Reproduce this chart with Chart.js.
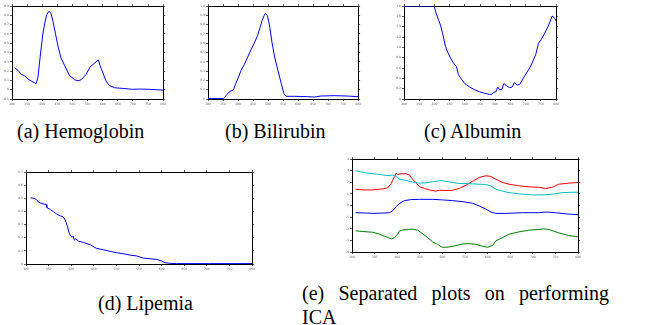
<!DOCTYPE html>
<html>
<head>
<meta charset="utf-8">
<script src="https://cdn.jsdelivr.net/npm/chart.js@4.4.1/dist/chart.umd.min.js"></script>
<style>
body { margin: 0; background: #fff; width: 665px; height: 325px; position: relative; overflow: hidden; font-family: "Liberation Serif", "Times New Roman", serif; }
canvas { position: absolute; }
.cap { position: absolute; font-size: 20px; line-height: 24px; color: #000; white-space: nowrap; }
.capE { position: absolute; font-size: 20px; line-height: 24px; color: #000; text-align: justify; width: 307px; }
</style>
</head>
<body>
<canvas id="plotA"></canvas>
<canvas id="plotB"></canvas>
<canvas id="plotC"></canvas>
<canvas id="plotD"></canvas>
<canvas id="plotE"></canvas>
<div class="cap" style="left:17px; top:119px;">(a) Hemoglobin</div>
<div class="cap" style="left:225px; top:119px;">(b) Bilirubin</div>
<div class="cap" style="left:424px; top:119px;">(c) Albumin</div>
<div class="cap" style="left:98px; top:291px;">(d) Lipemia</div>
<div class="capE" style="left:302px; top:281px;">(e) Separated plots on performing ICA</div>
<script>
// wavelength ticks, same for every panel
var xMin = 300, xMax = 800, xStep = 50;

// (a) hemoglobin
var hbX = [309,320,331,342,353,364,380,386,393,402,409,415,422,429,435,444,453,462,474,490,507,518,529,545,558,573,586,591,600,611,622,639,666,699,721,754,800];
var hbY = [0.236,0.207,0.164,0.150,0.114,0.093,0.064,0.136,0.350,0.600,0.725,0.807,0.843,0.821,0.743,0.600,0.457,0.343,0.261,0.154,0.107,0.096,0.107,0.164,0.243,0.286,0.321,0.261,0.189,0.093,0.046,0.021,0.014,0.004,0.007,0.004,-0.004];

// (b) bilirubin
var biX = [302,352,355,363,374,385,392,401,410,421,432,443,454,465,473,480,487,491,498,506,513,522,533,544,553,560,588,632,654,676,720,764,800];
var biY = [0.004,0.004,0.014,0.050,0.082,0.100,0.164,0.229,0.307,0.371,0.450,0.529,0.600,0.682,0.764,0.843,0.896,0.921,0.896,0.771,0.611,0.450,0.307,0.164,0.057,0.029,0.029,0.025,0.021,0.032,0.036,0.032,0.025];

// (c) albumin (runs along the top at the start)
var alX = [300,396,400,406,414,420,428,436,444,453,462,472,479,488,499,516,532,548,565,581,589,595,602,608,614,622,628,636,647,655,663,672,680,691,702,713,723,734,742,751,762,773,781,786,790,795,800];
var alY = [1.80,1.80,1.78,1.65,1.52,1.43,1.24,1.02,0.90,0.79,0.70,0.63,0.47,0.39,0.30,0.23,0.18,0.14,0.11,0.09,0.09,0.13,0.14,0.23,0.18,0.19,0.30,0.26,0.22,0.23,0.32,0.27,0.28,0.39,0.50,0.60,0.72,0.88,1.08,1.15,1.27,1.40,1.51,1.60,1.60,1.56,1.51];

// (d) lipemia
var lpX = [310,318,323,328,335,345,346,354,361,368,376,382,387,392,395,399,402,404,407,410,416,427,442,456,471,486,500,515,530,545,559,574,589,600,607,618,633,706,800];
var lpY = [0.503,0.500,0.490,0.470,0.460,0.452,0.430,0.414,0.397,0.379,0.366,0.359,0.334,0.283,0.238,0.212,0.202,0.212,0.182,0.192,0.174,0.164,0.147,0.119,0.109,0.096,0.086,0.078,0.068,0.061,0.045,0.040,0.035,0.023,0.010,0.005,0.003,0.003,0.003];

// (e) ICA components
var cyX = [308,332,354,376,390,398,405,420,434,449,464,478,497,508,522,537,552,567,581,596,607,618,633,647,669,699,721,743,765,787,800];
var cyY = [2.99,2.79,2.70,2.58,2.61,2.50,2.27,2.15,2.01,1.92,1.95,2.04,2.15,2.07,1.98,1.89,1.89,1.86,1.83,1.81,1.69,1.40,1.23,1.11,1.00,0.91,0.91,0.97,1.11,1.14,1.14];
var rdX = [308,324,346,368,379,387,394,398,401,409,420,427,434,442,449,460,471,486,493,508,522,537,552,567,581,596,607,618,633,647,669,691,713,728,743,757,779,800];
var rdY = [1.40,1.34,1.34,1.43,1.52,1.92,2.50,2.79,2.67,2.73,2.73,2.61,2.27,1.92,1.63,1.46,1.34,1.23,1.31,1.29,1.31,1.46,1.75,2.09,2.41,2.56,2.50,2.27,1.98,1.83,1.69,1.60,1.57,1.46,1.57,1.83,1.92,1.98];
var blX = [308,332,346,368,383,390,398,405,416,431,449,478,500,522,545,567,581,596,607,618,640,677,713,728,750,779,800];
var blY = [-0.62,-0.65,-0.68,-0.65,-0.62,-0.45,-0.10,0.19,0.42,0.51,0.53,0.53,0.48,0.42,0.33,0.19,-0.04,-0.30,-0.56,-0.68,-0.68,-0.62,-0.62,-0.56,-0.62,-0.74,-0.79];
var grX = [308,324,346,361,376,387,394,401,405,412,420,434,445,456,467,478,489,500,515,530,545,559,574,589,600,611,618,633,647,669,691,713,724,735,757,779,800];
var grY = [-2.18,-2.24,-2.30,-2.47,-2.70,-2.87,-2.76,-2.47,-2.18,-2.12,-2.06,-2.04,-2.12,-2.41,-2.76,-3.13,-3.34,-3.60,-3.57,-3.45,-3.31,-3.28,-3.34,-3.51,-3.60,-3.42,-3.05,-2.76,-2.47,-2.27,-2.12,-2.06,-2.01,-2.06,-2.35,-2.58,-2.70];

var blue = 'rgb(0,0,255)';

function toPoints(xs, ys) {
    var pts = [];
    for (var i = 0; i < xs.length; i++) {
        pts.push({x: xs[i], y: ys[i]});
    }
    return pts;
}

function line(xs, ys, color) {
    return {
        data: toPoints(xs, ys),
        showLine: true,
        borderColor: color,
        borderWidth: 1,
        pointRadius: 0,
        tension: 0
    };
}

// axis sizes around the plot box: left, right, top, bottom
var padL = 14, padR = 3, padT = 3, padB = 9;

function axis(pos, min, max, step, labels, size) {
    var horiz = (pos == 'top' || pos == 'bottom');
    return {
        type: 'linear',
        position: pos,
        min: min,
        max: max,
        ticks: {
            display: labels,
            stepSize: step,
            autoSkip: false,
            maxRotation: 0,
            padding: 1,
            color: '#666',
            font: {size: 3, family: 'DejaVu Sans'}
        },
        grid: {drawOnChartArea: false, tickLength: 2, color: '#000', lineWidth: 0.6},
        border: {display: true, color: '#000', width: 1},
        afterFit: function (s) {
            if (horiz) s.height = size; else s.width = size;
        }
    };
}

function makePlot(id, box, yMin, yMax, yStep, datasets) {
    var cv = document.getElementById(id);
    var w = box[2] - box[0] + padL + padR;
    var h = box[3] - box[1] + padT + padB;
    cv.style.left = (box[0] - padL) + 'px';
    cv.style.top = (box[1] - padT) + 'px';
    cv.width = w;
    cv.height = h;
    cv.style.width = w + 'px';
    cv.style.height = h + 'px';
    return new Chart(cv, {
        type: 'scatter',
        data: {datasets: datasets},
        options: {
            responsive: false,
            animation: false,
            layout: {padding: 0},
            plugins: {legend: {display: false}, tooltip: {enabled: false}},
            scales: {
                x: axis('bottom', xMin, xMax, xStep, true, padB),
                x2: axis('top', xMin, xMax, xStep, false, padT),
                y: axis('left', yMin, yMax, yStep, true, padL),
                y2: axis('right', yMin, yMax, yStep, false, padR)
            }
        }
    });
}

makePlot('plotA', [12, 6, 164, 99], -0.1, 0.9, 0.1, [line(hbX, hbY, blue)]);
makePlot('plotB', [208, 6, 359, 99], 0, 1, 0.1, [line(biX, biY, blue)]);
makePlot('plotC', [404, 6, 557, 99], 0, 1.8, 0.2, [line(alX, alY, blue)]);
makePlot('plotD', [26, 172, 253, 264], 0, 0.7, 0.1, [line(lpX, lpY, blue)]);
makePlot('plotE', [352, 159, 579, 252], -4, 4, 1, [
    line(cyX, cyY, 'rgb(0,191,191)'),
    line(rdX, rdY, 'rgb(255,0,0)'),
    line(blX, blY, blue),
    line(grX, grY, 'rgb(0,128,0)')
]);
</script>
</body>
</html>
